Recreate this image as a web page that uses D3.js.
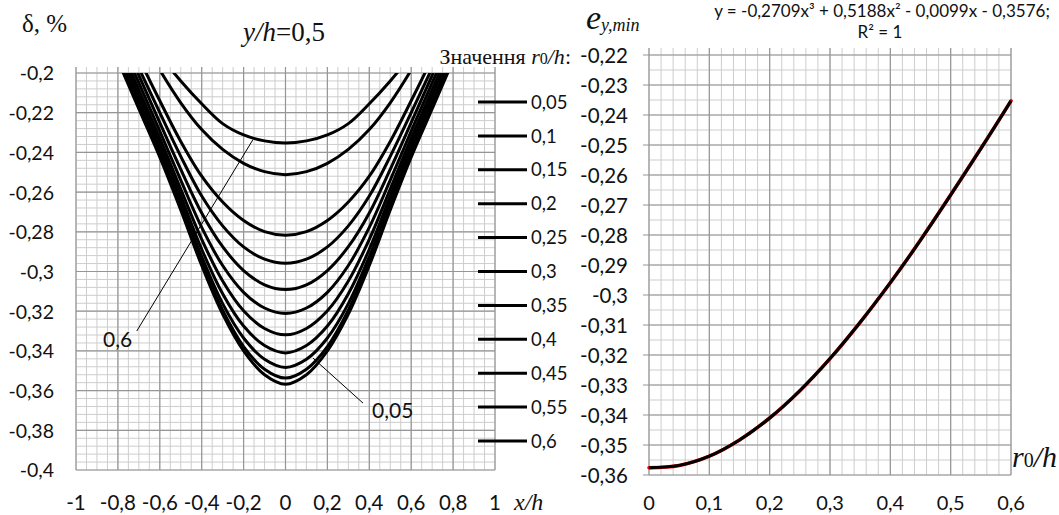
<!DOCTYPE html>
<html>
<head>
<meta charset="utf-8">
<script src="https://cdn.jsdelivr.net/npm/d3@7"></script>
<style>
body { margin: 0; background: #fff; }
svg { display: block; }
text { font-family: Lato, "Open Sans", sans-serif; fill: #111; }
.serif { font-family: "Liberation Serif", "DejaVu Serif", serif; }
</style>
</head>
<body>
<div id="chart"></div>
<script>
// left chart: strain profiles along x/h at y/h = 0.5, one per r0/h
const xh = [-0.8, -0.7, -0.6, -0.5, -0.4, -0.3, -0.2, -0.1, 0, 0.1, 0.2, 0.3, 0.4, 0.5, 0.6, 0.7, 0.8];
const r0Labels = ["0,05", "0,1", "0,15", "0,2", "0,25", "0,3", "0,35", "0,4", "0,45", "0,55", "0,6"];
const d005 = [-0.1937, -0.2181, -0.2424, -0.2690, -0.2970, -0.3215, -0.3400, -0.3520, -0.3568, -0.3520, -0.3400, -0.3215, -0.2970, -0.2690, -0.2424, -0.2181, -0.1937];
const d010 = [-0.1920, -0.2165, -0.2408, -0.2672, -0.2952, -0.3195, -0.3378, -0.3492, -0.3537, -0.3492, -0.3378, -0.3195, -0.2952, -0.2672, -0.2408, -0.2165, -0.1920];
const d015 = [-0.1900, -0.2145, -0.2385, -0.2650, -0.2925, -0.3162, -0.3335, -0.3442, -0.3483, -0.3442, -0.3335, -0.3162, -0.2925, -0.2650, -0.2385, -0.2145, -0.1900];
const d020 = [-0.1870, -0.2115, -0.2358, -0.2620, -0.2888, -0.3112, -0.3275, -0.3373, -0.3410, -0.3373, -0.3275, -0.3112, -0.2888, -0.2620, -0.2358, -0.2115, -0.1870];
const d025 = [-0.1840, -0.2085, -0.2328, -0.2585, -0.2838, -0.3048, -0.3198, -0.3287, -0.3319, -0.3287, -0.3198, -0.3048, -0.2838, -0.2585, -0.2328, -0.2085, -0.1840];
const d030 = [-0.1810, -0.2050, -0.2293, -0.2540, -0.2778, -0.2970, -0.3105, -0.3184, -0.3212, -0.3184, -0.3105, -0.2970, -0.2778, -0.2540, -0.2293, -0.2050, -0.1810];
const d035 = [-0.1770, -0.2012, -0.2250, -0.2485, -0.2705, -0.2875, -0.2995, -0.3067, -0.3091, -0.3067, -0.2995, -0.2875, -0.2705, -0.2485, -0.2250, -0.2012, -0.1770];
const d040 = [-0.1740, -0.1975, -0.2200, -0.2420, -0.2620, -0.2770, -0.2876, -0.2938, -0.2959, -0.2938, -0.2876, -0.2770, -0.2620, -0.2420, -0.2200, -0.1975, -0.1740];
const d045 = [-0.1700, -0.1925, -0.2140, -0.2345, -0.2520, -0.2650, -0.2743, -0.2799, -0.2817, -0.2799, -0.2743, -0.2650, -0.2520, -0.2345, -0.2140, -0.1925, -0.1700];
const d055 = [-0.1600, -0.1800, -0.1985, -0.2150, -0.2285, -0.2385, -0.2455, -0.2497, -0.2512, -0.2497, -0.2455, -0.2385, -0.2285, -0.2150, -0.1985, -0.1800, -0.1600];
const d060 = [-0.1600, -0.1760, -0.1910, -0.2040, -0.2155, -0.2255, -0.2312, -0.2342, -0.2353, -0.2342, -0.2312, -0.2255, -0.2155, -0.2040, -0.1910, -0.1760, -0.1600];
const profiles = [d005, d010, d015, d020, d025, d030, d035, d040, d045, d055, d060];

// callout leader lines [x/h, delta] : label end -> curve end
const callout06 = [[-0.71, -0.330], [-0.155, -0.2335]];
const callout005 = [[0.37, -0.3663], [0.131, -0.3436]];

// right chart: minimum e_y vs r0/h
const r0 = [0, 0.05, 0.1, 0.15, 0.2, 0.25, 0.3, 0.35, 0.4, 0.45, 0.55, 0.6];
const eyMin = [-0.3576, -0.3568, -0.3537, -0.3483, -0.3410, -0.3319, -0.3212, -0.3091, -0.2959, -0.2817, -0.2512, -0.2353];

const W = 1059, H = 515;
const loc = d3.formatLocale({decimal: ",", thousands: " ", grouping: [3], currency: ["", ""], minus: "-"});
const fmt = loc.format("~g");

const svg = d3.select("#chart").append("svg")
    .attr("width", W)
    .attr("height", H);
svg.append("rect").attr("width", W).attr("height", H).attr("fill", "#fff");

function grid(g, x, y, minorX, minorY, majorX, majorY, topExt, leftExt) {
    const [x0, x1] = x.range();
    const [y0, y1] = y.range(); // y0 bottom, y1 top
    g.selectAll(".mx").data(minorX).join("line")
        .attr("x1", d => x(d)).attr("x2", d => x(d))
        .attr("y1", y0).attr("y2", y1 - topExt)
        .attr("stroke", "#cdcdcd").attr("stroke-width", 1);
    g.selectAll(".my").data(minorY).join("line")
        .attr("x1", x0).attr("x2", x1)
        .attr("y1", d => y(d)).attr("y2", d => y(d))
        .attr("stroke", "#cdcdcd").attr("stroke-width", 1);
    g.selectAll(".Mx").data(majorX).join("line")
        .attr("x1", d => x(d)).attr("x2", d => x(d))
        .attr("y1", y0).attr("y2", y1 - topExt)
        .attr("stroke", "#969696").attr("stroke-width", 1.2);
    g.selectAll(".My").data(majorY).join("line")
        .attr("x1", x0 - leftExt).attr("x2", x1)
        .attr("y1", d => y(d)).attr("y2", d => y(d))
        .attr("stroke", "#969696").attr("stroke-width", 1.2);
}

// ---------- left chart ----------
const xL = d3.scaleLinear().domain([-1, 1]).range([76, 495]);
const yL = d3.scaleLinear().domain([-0.4, -0.2]).range([470, 73]);

const gL = svg.append("g");
grid(gL.append("g"), xL, yL,
    xL.ticks(40), d3.range(0, 51).map(i => -0.4 + i * 0.004),
    xL.ticks(10), yL.ticks(10), 6, 0);

svg.append("clipPath").attr("id", "clipL")
    .append("rect").attr("x", 76).attr("y", 73).attr("width", 419).attr("height", 397);

const lineL = d3.line()
    .x((d, i) => xL(xh[i]))
    .y(d => yL(d))
    .curve(d3.curveCatmullRom.alpha(0.5));

gL.append("g").attr("clip-path", "url(#clipL)")
    .selectAll("path").data(profiles).join("path")
    .attr("d", lineL)
    .attr("fill", "none")
    .attr("stroke", "#000")
    .attr("stroke-width", 3);

const leader = d3.line().x(d => xL(d[0])).y(d => yL(d[1]));
gL.selectAll(".callout").data([callout06, callout005]).join("path")
    .attr("d", leader)
    .attr("stroke", "#000").attr("stroke-width", 1).attr("fill", "none");
gL.append("text").attr("x", 103).attr("y", 347).attr("font-size", 21).text("0,6");
gL.append("text").attr("x", 372).attr("y", 418).attr("font-size", 21).text("0,05");

gL.selectAll(".ytl").data(yL.ticks(10)).join("text")
    .attr("x", 54).attr("y", d => yL(d)).attr("dy", "0.38em")
    .attr("text-anchor", "end").attr("font-size", 19.5)
    .text(fmt);
gL.selectAll(".xtl").data(xL.ticks(10)).join("text")
    .attr("x", d => xL(d)).attr("y", 510)
    .attr("text-anchor", "middle").attr("font-size", 20.5)
    .text(fmt);

gL.append("text").attr("class", "serif").attr("x", 22).attr("y", 32).attr("font-size", 25).text("δ, %");
const tt = gL.append("text").attr("class", "serif").attr("x", 243).attr("y", 41).attr("font-size", 27);
tt.append("tspan").attr("font-style", "italic").text("y/h");
tt.append("tspan").text("=0,5");
gL.append("text").attr("class", "serif").attr("x", 514).attr("y", 510)
    .attr("font-size", 24).attr("font-style", "italic").text("x/h");

// legend
const lg = gL.append("text").attr("class", "serif").attr("x", 571).attr("y", 64)
    .attr("text-anchor", "end").attr("font-size", 22);
lg.append("tspan").text("Значення ");
lg.append("tspan").attr("font-style", "italic").text("r");
lg.append("tspan").attr("font-size", 16).text("0");
lg.append("tspan").attr("font-style", "italic").text("/h");
lg.append("tspan").text(":");

const legY = d3.scalePoint().domain(r0Labels).range([102, 441]);
const li = gL.selectAll(".leg").data(r0Labels).join("g")
    .attr("transform", d => `translate(0,${legY(d)})`);
li.append("line").attr("x1", 478).attr("x2", 527)
    .attr("stroke", "#000").attr("stroke-width", 3);
li.append("text").attr("x", 531).attr("dy", "0.36em").attr("font-size", 18.5).text(d => d);

// ---------- right chart ----------
const xR = d3.scaleLinear().domain([0, 0.6]).range([649, 1011]);
const yR = d3.scaleLinear().domain([-0.36, -0.22]).range([475, 55]);

const gR = svg.append("g");
grid(gR.append("g"), xR, yR,
    xR.ticks(30), yR.ticks(28), xR.ticks(6), yR.ticks(14), 7, 6);

const lineR = d3.line()
    .x((d, i) => xR(r0[i]))
    .y(d => yR(d))
    .curve(d3.curveCatmullRom.alpha(0.5));

gR.append("path").datum(eyMin)
    .attr("d", lineR).attr("fill", "none")
    .attr("stroke", "#e00000").attr("stroke-width", 3.6).attr("stroke-linecap", "round");
gR.append("path").datum(eyMin)
    .attr("d", lineR).attr("fill", "none")
    .attr("stroke", "#000").attr("stroke-width", 3);

gR.selectAll(".ytl").data(yR.ticks(14)).join("text")
    .attr("x", 628).attr("y", d => yR(d)).attr("dy", "0.38em")
    .attr("text-anchor", "end").attr("font-size", 20.5)
    .text(fmt);
gR.selectAll(".xtl").data(xR.ticks(6)).join("text")
    .attr("x", d => xR(d)).attr("y", 510)
    .attr("text-anchor", "middle").attr("font-size", 20)
    .text(fmt);

const ey = gR.append("text").attr("class", "serif").attr("x", 586).attr("y", 29).attr("font-style", "italic");
ey.append("tspan").attr("font-size", 34).text("e");
ey.append("tspan").attr("font-size", 18).attr("dy", 2).text("y,min");

gR.append("text").attr("x", 882).attr("y", 17).attr("text-anchor", "middle").attr("font-size", 17)
    .text("y = -0,2709x³ + 0,5188x² - 0,0099x - 0,3576;");
gR.append("text").attr("x", 880).attr("y", 38).attr("text-anchor", "middle").attr("font-size", 17)
    .text("R² = 1");

const rl = gR.append("text").attr("class", "serif").attr("x", 1012).attr("y", 467).attr("font-size", 30);
rl.append("tspan").attr("font-style", "italic").text("r");
rl.append("tspan").attr("font-size", 20).text("0");
rl.append("tspan").attr("font-style", "italic").text("/h");
</script>
</body>
</html>
